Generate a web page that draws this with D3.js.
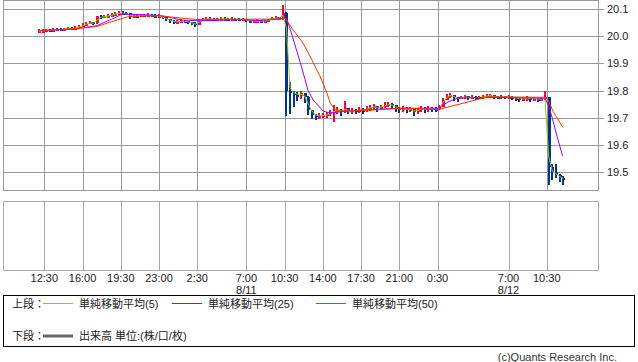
<!DOCTYPE html>
<html><head><meta charset="utf-8">
<script src="https://cdn.jsdelivr.net/npm/d3@7"></script>
<style>
html,body{margin:0;padding:0;background:#fff;}
svg{display:block;}
text{font-family:"Liberation Sans",Arial,"Noto Sans CJK JP",sans-serif;}
.jp{font-family:"Liberation Sans","Noto Sans CJK JP",sans-serif;}
</style>
</head><body>
<svg id="c" width="638" height="362"></svg>
<script>
// ---------------- data ----------------
const barStart = "2023-08-10 12:00";   // first 20-minute bar
const barMinutes = 20;
const closes = [
 20.018,20.020,20.022,20.020,20.023,20.025,20.024,20.026,20.028,20.027,20.030,
 20.035,20.042,20.045,20.050,20.046,20.072,
 20.070,20.072,20.075,20.078,
 20.082,20.085,20.084,20.083,
 20.070,
 20.075,20.073,20.076,20.074,20.077,20.075,20.073,20.074,
 20.068,20.062,20.055,20.050,20.052,20.056,20.054,20.050,20.047,20.040,20.058,
 20.062,20.064,20.063,20.060,20.062,20.064,20.063,20.061,20.063,20.062,20.060,20.061,
 20.056,20.055,20.055,20.056,20.054,20.055,20.058,
 20.066,20.068,20.065,
 20.085,
 19.800,
 19.790,19.785,19.780,19.790,19.775,
 19.730,19.710,19.705,19.708,19.710,19.712,19.720,
 19.725,19.730,19.720,19.735,19.725,19.728,19.725,19.730,19.728,19.735,19.738,
 19.742,19.735,19.740,19.748,19.750,19.745,19.735,19.730,
 19.735,19.730,19.732,19.720,19.728,19.735,19.730,19.735,19.733,19.732,
 19.740,19.765,19.780,19.785,19.775,19.768,
 19.775,19.778,19.774,19.776,19.772,19.775,19.778,19.780,19.782,19.777,19.775,19.778,19.775,19.776,
 19.774,19.772,19.768,19.770,19.772,19.768,19.770,19.768,19.770,19.775,
 19.520,19.500,19.490,19.480,19.475
];
const highs = [
 20.024,20.025,20.027,20.026,20.028,20.030,20.029,20.031,20.033,20.032,20.036,
 20.042,20.048,20.052,20.056,20.053,20.075,
 20.076,20.078,20.081,20.084,
 20.088,20.091,20.090,20.088,
 20.080,
 20.080,20.079,20.081,20.080,20.083,20.081,20.079,20.079,
 20.074,20.068,20.062,20.057,20.058,20.062,20.060,20.056,20.053,20.050,20.063,
 20.067,20.069,20.068,20.066,20.067,20.069,20.068,20.066,20.068,20.067,20.065,20.066,
 20.061,20.060,20.060,20.061,20.059,20.060,20.064,
 20.071,20.073,20.071,
 20.115,
 20.088,
 19.830,19.800,19.795,19.800,19.790,
 19.778,19.722,19.715,19.716,19.718,19.720,19.730,
 19.745,19.740,19.733,19.762,19.735,19.736,19.733,19.738,19.736,19.743,19.746,
 19.750,19.744,19.748,19.756,19.758,19.753,19.745,19.738,
 19.742,19.738,19.740,19.733,19.735,19.742,19.738,19.742,19.740,19.739,
 19.748,19.772,19.788,19.792,19.785,19.775,
 19.781,19.784,19.780,19.782,19.778,19.781,19.784,19.786,19.788,19.783,19.781,19.784,19.781,19.782,
 19.779,19.777,19.773,19.776,19.778,19.774,19.776,19.774,19.776,19.797,
 19.775,19.530,19.530,19.495,19.488
];
const lows = [
 20.012,20.014,20.016,20.014,20.017,20.019,20.018,20.020,20.022,20.021,20.024,
 20.028,20.034,20.038,20.043,20.040,20.044,
 20.064,20.066,20.069,20.072,
 20.076,20.079,20.078,20.076,
 20.064,
 20.068,20.067,20.070,20.068,20.070,20.069,20.067,20.068,
 20.061,20.054,20.047,20.043,20.045,20.049,20.047,20.043,20.040,20.033,20.040,
 20.056,20.058,20.057,20.054,20.056,20.058,20.057,20.055,20.057,20.056,20.054,20.055,
 20.050,20.049,20.049,20.050,20.048,20.049,20.052,
 20.058,20.062,20.059,
 20.060,
 19.707,
 19.712,19.740,19.760,19.770,19.755,
 19.710,19.695,19.690,19.695,19.698,19.700,19.708,
 19.685,19.715,19.705,19.718,19.712,19.715,19.712,19.716,19.714,19.722,19.726,
 19.730,19.722,19.727,19.736,19.738,19.732,19.722,19.716,
 19.722,19.717,19.720,19.708,19.715,19.722,19.717,19.722,19.720,19.720,
 19.728,19.738,19.765,19.774,19.763,19.758,
 19.767,19.770,19.766,19.768,19.764,19.767,19.770,19.772,19.774,19.769,19.767,19.770,19.767,19.768,
 19.766,19.763,19.758,19.761,19.763,19.759,19.761,19.759,19.761,19.765,
 19.455,19.470,19.478,19.465,19.455
];
const ma5 = [
 20.018,20.019,20.020,20.021,20.021,20.023,20.024,20.025,20.026,20.027,20.028,
 20.032,20.038,20.043,20.047,20.047,20.058,
 20.068,20.071,20.073,20.076,
 20.080,20.083,20.084,20.083,
 20.076,
 20.074,20.073,20.075,20.075,20.076,20.075,20.074,20.074,
 20.070,20.064,20.058,20.053,20.052,20.054,20.054,20.052,20.049,20.044,20.050,
 20.058,20.062,20.063,20.061,20.061,20.063,20.063,20.062,20.062,20.062,20.061,20.061,
 20.058,20.056,20.055,20.055,20.055,20.055,20.057,
 20.062,20.066,20.066,
 20.075,
 20.030,
 19.810,19.792,19.786,19.786,19.780,
 19.750,19.725,19.710,19.707,19.708,19.710,19.715,
 19.722,19.727,19.724,19.730,19.728,19.727,19.726,19.728,19.728,19.732,19.736,
 19.740,19.738,19.739,19.744,19.748,19.747,19.740,19.733,
 19.733,19.731,19.731,19.725,19.726,19.731,19.731,19.733,19.733,19.732,
 19.736,19.755,19.773,19.782,19.778,19.771,
 19.773,19.776,19.775,19.775,19.774,19.774,19.776,19.779,19.781,19.779,19.776,19.777,19.776,19.776,
 19.775,19.773,19.770,19.770,19.771,19.770,19.770,19.769,19.769,19.773,
 19.560,19.505,19.495,19.485,19.478
];
const ma25Times = ["2023-08-10 12:07","2023-08-10 15:19","2023-08-10 17:20","2023-08-10 18:58","2023-08-10 19:37",
 "2023-08-10 20:21","2023-08-10 23:06","2023-08-11 00:01","2023-08-11 01:07","2023-08-11 02:46","2023-08-11 06:25",
 "2023-08-11 08:15","2023-08-11 10:05","2023-08-11 10:32","2023-08-11 10:49","2023-08-11 11:55","2023-08-11 12:39",
 "2023-08-11 13:07","2023-08-11 14:01","2023-08-11 14:40","2023-08-11 15:35","2023-08-11 17:25","2023-08-11 21:04",
 "2023-08-12 00:33","2023-08-12 01:28","2023-08-12 02:23","2023-08-12 05:19","2023-08-12 10:21","2023-08-12 10:38",
 "2023-08-12 11:00","2023-08-12 11:27","2023-08-12 11:57"];
const ma25Values = [20.020,20.025,20.038,20.067,20.080,
 20.080,20.075,20.068,20.058,20.056,20.060,
 20.057,20.062,20.068,20.050,19.905,19.800,
 19.765,19.725,19.717,19.722,19.728,19.735,
 19.735,19.758,19.772,19.775,19.772,19.745,
 19.700,19.630,19.560];
const ma50Times = ["2023-08-10 12:07","2023-08-10 15:19","2023-08-10 17:20","2023-08-10 18:48","2023-08-10 20:05",
 "2023-08-10 20:48","2023-08-10 23:06","2023-08-11 00:56","2023-08-11 02:18","2023-08-11 10:22","2023-08-11 10:32",
 "2023-08-11 11:16","2023-08-11 12:11","2023-08-11 13:00","2023-08-11 13:44","2023-08-11 14:23","2023-08-11 14:40",
 "2023-08-11 15:07","2023-08-11 16:02","2023-08-11 18:19","2023-08-11 21:32","2023-08-12 00:33","2023-08-12 05:08",
 "2023-08-12 10:21","2023-08-12 10:38","2023-08-12 11:05","2023-08-12 11:59"];
const ma50Values = [20.020,20.027,20.035,20.054,20.070,
 20.073,20.074,20.066,20.061,20.062,20.066,
 20.023,19.974,19.912,19.853,19.790,19.754,
 19.730,19.724,19.728,19.735,19.730,19.777,
 19.775,19.765,19.723,19.664];
const yTicks = [19.5,19.6,19.7,19.8,19.9,20.0,20.1];
const xTickTimes = ["2023-08-10 12:30","2023-08-10 16:00","2023-08-10 19:30","2023-08-10 23:00","2023-08-11 02:30",
 "2023-08-11 07:00","2023-08-11 10:30","2023-08-11 14:00","2023-08-11 17:30","2023-08-11 21:00","2023-08-12 00:30",
 "2023-08-12 07:00","2023-08-12 10:30"];
const dateTickTimes = ["2023-08-11 07:00","2023-08-12 07:00"];
const viewRange = ["2023-08-10 08:43","2023-08-12 15:13"];
const priceRange = [19.435,20.132];
const legendTop = [
 {label:"単純移動平均(5)", color:"#99cc00"},
 {label:"単純移動平均(25)", color:"#9900ff"},
 {label:"単純移動平均(50)", color:"#ff3300"}
];
const legendBottom = "出来高 単位:(株/口/枚)";
const copyright = "(c)Quants Research Inc.";

// ---------------- drawing ----------------
const parse = d3.timeParse("%Y-%m-%d %H:%M");
const t0 = parse(barStart);
const bars = closes.map((c,i)=>({
  t: d3.timeMinute.offset(t0, i*barMinutes),
  o: i===0 ? c : closes[i-1], c, h: highs[i], l: lows[i], m: ma5[i]
}));
const svg = d3.select("#c");
svg.append("rect").attr("width",638).attr("height",362).attr("fill","#fff");

const L = 3.5, R = 598.5, T = 0.5, B = 190.5;
const VT = 201.5, VB = 270.5;
const x = d3.scaleTime().domain(viewRange.map(parse)).range([3, 598.3]);
const y = d3.scaleLinear().domain(priceRange).range([190, 0]);
const gridC = "#999";
const px = v => Math.round(v) + 0.5;

// grid main
const g = svg.append("g").attr("shape-rendering","crispEdges");
g.selectAll("line.h").data(yTicks).join("line")
  .attr("x1",L).attr("x2",R+5).attr("y1",d=>px(y(d))).attr("y2",d=>px(y(d)))
  .attr("stroke",gridC);
g.selectAll("line.v").data(xTickTimes).join("line")
  .attr("x1",d=>px(x(parse(d)))).attr("x2",d=>px(x(parse(d))))
  .attr("y1",T).attr("y2",B).attr("stroke",gridC);
g.append("rect").attr("x",L).attr("y",T).attr("width",R-L).attr("height",B-T)
  .attr("fill","none").attr("stroke",gridC);

// volume panel
g.selectAll("line.vv").data(xTickTimes).join("line")
  .attr("x1",d=>px(x(parse(d)))).attr("x2",d=>px(x(parse(d))))
  .attr("y1",VT).attr("y2",VB).attr("stroke","#aaa");
g.append("rect").attr("x",L).attr("y",VT).attr("width",R-L).attr("height",VB-VT)
  .attr("fill","none").attr("stroke","#aaa");

// y labels
svg.selectAll("text.yl").data(yTicks).join("text")
  .attr("x",607).attr("y",d=>y(d)+4).attr("font-size",11).attr("fill","#222")
  .text(d=>d.toFixed(1));
// x labels
const fmtT = d3.timeFormat("%-H:%M"), fmtD = d3.timeFormat("%-m/%-d");
svg.selectAll("text.xl").data(xTickTimes).join("text")
  .attr("x",d=>x(parse(d))).attr("y",282).attr("text-anchor","middle")
  .attr("font-size",11).attr("fill","#222").text(d=>fmtT(parse(d)));
svg.selectAll("text.dl").data(dateTickTimes).join("text")
  .attr("x",d=>x(parse(d))).attr("y",294).attr("text-anchor","middle")
  .attr("font-size",11).attr("fill","#222").text(d=>fmtD(parse(d)));

// candles
const cg = svg.append("g").attr("shape-rendering","crispEdges");
const colUp = "#ff0033", colDn = "#003399";
cg.selectAll("rect.w").data(bars).join("rect")
  .attr("x",d=>Math.round(x(d.t))-1).attr("width",2)
  .attr("y",d=>y(d.h)).attr("height",d=>Math.max(1, y(d.l)-y(d.h)))
  .attr("fill",d=>d.c>=d.o?colUp:colDn);
cg.selectAll("rect.b").data(bars).join("rect")
  .attr("x",d=>Math.round(x(d.t))-1).attr("width",3)
  .attr("y",d=>y(Math.max(d.o,d.c)))
  .attr("height",d=>Math.max(2, Math.abs(y(d.o)-y(d.c))))
  .attr("fill",d=>d.c>=d.o?colUp:colDn);

// moving averages
const line = d3.line().x(d=>x(d[0])).y(d=>y(d[1]));
svg.append("path").datum(bars.map(d=>[d.t,d.m])).attr("d",line)
  .attr("fill","none").attr("stroke",legendTop[0].color).attr("stroke-width",1);
svg.append("path").datum(ma25Times.map((t,i)=>[parse(t),ma25Values[i]])).attr("d",line)
  .attr("fill","none").attr("stroke",legendTop[1].color).attr("stroke-width",1);
svg.append("path").datum(ma50Times.map((t,i)=>[parse(t),ma50Values[i]])).attr("d",line)
  .attr("fill","none").attr("stroke",legendTop[2].color).attr("stroke-width",1);

// legend
const lg = svg.append("g");
lg.append("rect").attr("x",3.5).attr("y",295.5).attr("width",631).attr("height",51)
  .attr("fill","none").attr("stroke","#000").attr("shape-rendering","crispEdges");
lg.append("text").attr("class","jp").attr("x",12).attr("y",308).attr("font-size",11).attr("fill","#222").text("上段：");
const legX = [43,172,316];
legendTop.forEach((d,i)=>{
  lg.append("line").attr("x1",legX[i]).attr("x2",legX[i]+30).attr("y1",303.5).attr("y2",303.5)
    .attr("stroke",d.color).attr("shape-rendering","crispEdges");
  lg.append("text").attr("class","jp").attr("x",legX[i]+36).attr("y",308).attr("font-size",11)
    .attr("fill","#222").text(d.label);
});
lg.append("text").attr("class","jp").attr("x",12).attr("y",340).attr("font-size",11).attr("fill","#222").text("下段：");
lg.append("line").attr("x1",43).attr("x2",73).attr("y1",336).attr("y2",336)
  .attr("stroke","#666").attr("stroke-width",3);
lg.append("text").attr("class","jp").attr("x",79).attr("y",340).attr("font-size",11)
  .attr("fill","#222").text(legendBottom);

svg.append("text").attr("x",617).attr("y",361).attr("text-anchor","end")
  .attr("font-size",11).attr("fill","#333").text(copyright);
</script>
</body></html>
